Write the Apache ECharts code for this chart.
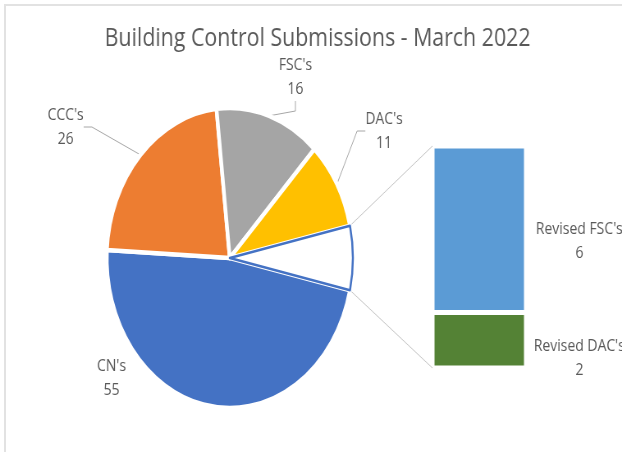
<!DOCTYPE html>
<html>
<head>
<meta charset="utf-8">
<title>Building Control Submissions - March 2022</title>
<script src="https://cdn.jsdelivr.net/npm/echarts@6/dist/echarts.min.js"></script>
<style>
    html, body { margin: 0; padding: 0; background: #fff; overflow: hidden; }
    #frame {
        position: absolute; left: 4px; top: 4px; width: 618px; height: 448px;
        border-left: 2px solid #e2e2e2; border-top: 2px solid #e2e2e2; box-sizing: border-box;
    }
    /* the source picture is squeezed sideways, so draw wider and scale it back */
    #chart-container {
        position: absolute; left: 0; top: 0; width: 758px; height: 452px;
        transform: scaleX(0.8206); transform-origin: 0 0;
    }
</style>
</head>
<body>
<div id="frame"></div>
<div id="chart-container"></div>
<script>
const titleText = 'Building Control Submissions - March 2022';

// pie of the main submissions, last slice is split out into the bar
const pieNames = ["CN's", "CCC's", "FSC's", "DAC's", 'Other'];
const pieValues = [55, 26, 16, 11, 8];
const pieColors = ['#4472c4', '#ed7d31', '#a5a5a5', '#ffc000', '#ffffff'];

// the "other" bar, bottom to top
const barNames = ["Revised DAC's", "Revised FSC's"];
const barValues = [2, 6];
const barColors = ['#548235', '#5b9bd5'];

const textColor = '#595959';
const fontFamily = '"Open Sans", "DejaVu Sans", sans-serif';

// layout (in the unscaled drawing space)
const pieCenter = [280, 258];
const pieRadius = 150;
const barGrid = {left: 527, top: 146, width: 114, height: 222};
const pieLabelPos = [[136, 378], [80, 127], [360, 77], [468, 131]];
const barLabelOffset = [[65, 18], [65, 12]];

const total = pieValues.reduce((a, b) => a + b, 0);
const otherIndex = pieValues.length - 1;
const halfOtherDeg = pieValues[otherIndex] / total * 180;

const pieData = pieNames.map((name, i) => {
    const isOther = i === otherIndex;
    return {
        name: name,
        value: pieValues[i],
        itemStyle: {
            color: pieColors[i],
            borderColor: isOther ? '#4472c4' : '#ffffff',
            borderWidth: isOther ? 2.5 : 4.5
        },
        label: {show: !isOther},
        labelLine: {show: !isOther && i !== 0}
    };
});

const barSeries = barNames.map((name, i) => ({
    name: name,
    type: 'bar',
    stack: 'other',
    barWidth: '100%',
    data: [barValues[i]],
    itemStyle: {color: barColors[i], borderColor: '#ffffff', borderWidth: 2.5},
    label: {
        show: true,
        position: 'right',
        distance: 0,
        align: 'center',
        offset: [barLabelOffset[i][0], barLabelOffset[i][1]],
        formatter: '{a}\n{c}',
        color: textColor,
        fontFamily: fontFamily,
        fontSize: 17,
        lineHeight: 24
    }
}));

const chartDom = document.getElementById('chart-container');
const myChart = echarts.init(chartDom, null, {renderer: 'canvas'});

const option = {
    animation: false,
    backgroundColor: 'transparent',
    title: {
        text: titleText,
        left: 382,
        top: 21,
        textAlign: 'center',
        textStyle: {color: textColor, fontFamily: fontFamily, fontSize: 26, fontWeight: 'normal'}
    },
    grid: {left: barGrid.left, top: barGrid.top, width: barGrid.width, height: barGrid.height},
    xAxis: {type: 'category', data: [''], show: false},
    yAxis: {type: 'value', min: 0, max: barValues.reduce((a, b) => a + b, 0), show: false},
    series: [
        {
            name: 'Submissions',
            type: 'pie',
            center: pieCenter,
            radius: pieRadius,
            startAngle: -halfOtherDeg,
            clockwise: true,
            avoidLabelOverlap: false,
            emphasis: {disabled: true},
            data: pieData,
            label: {
                position: 'outside',
                formatter: '{b}\n{c}',
                color: textColor,
                fontFamily: fontFamily,
                fontSize: 17,
                lineHeight: 24,
                align: 'center'
            },
            labelLine: {length: 20, length2: 10, lineStyle: {color: '#a6a6a6', width: 1}},
            labelLayout: function (params) {
                const p = pieLabelPos[params.dataIndex];
                if (!p) return {};
                return {x: p[0], y: p[1], align: 'center', verticalAlign: 'middle'};
            }
        }
    ].concat(barSeries)
};

myChart.setOption(option);

// series lines from the "other" slice to the bar
const a = halfOtherDeg * Math.PI / 180;
const sx = pieCenter[0] + pieRadius * Math.cos(a);
const barTopY = myChart.convertToPixel({yAxisIndex: 0}, option.yAxis.max);
const barBottomY = myChart.convertToPixel({yAxisIndex: 0}, 0);
myChart.setOption({
    graphic: [
        {type: 'line', shape: {x1: sx, y1: pieCenter[1] - pieRadius * Math.sin(a), x2: barGrid.left, y2: barTopY},
            style: {stroke: '#c4c4c4', lineWidth: 1}, silent: true},
        {type: 'line', shape: {x1: sx, y1: pieCenter[1] + pieRadius * Math.sin(a), x2: barGrid.left, y2: barBottomY},
            style: {stroke: '#c4c4c4', lineWidth: 1}, silent: true}
    ]
});
</script>
</body>
</html>
